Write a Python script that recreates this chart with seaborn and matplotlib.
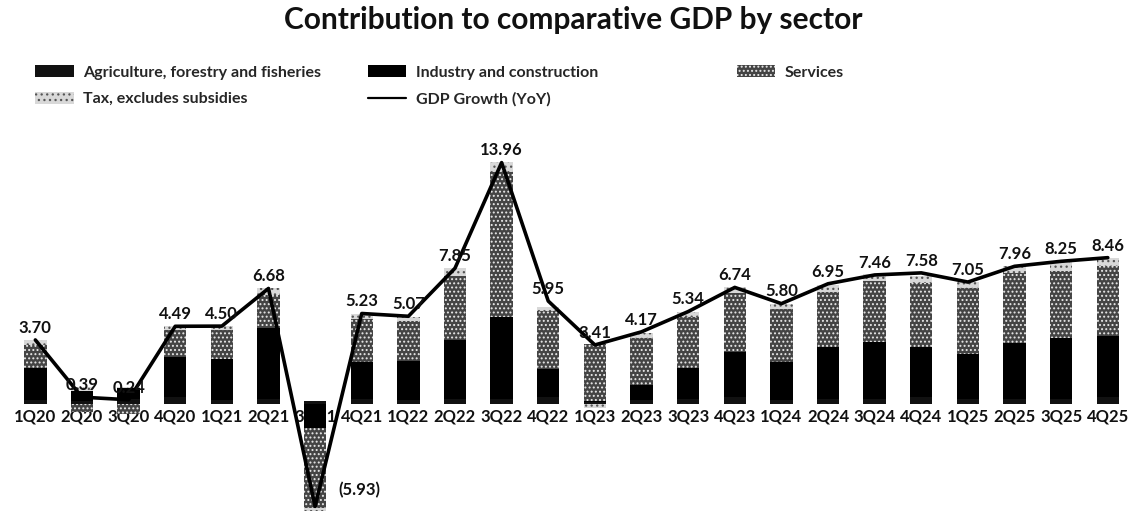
import numpy as np
import pandas as pd
import matplotlib
matplotlib.use("Agg")
import matplotlib.pyplot as plt
import seaborn as sns
from matplotlib.patches import Patch
from matplotlib.lines import Line2D

categories = ['1Q20', '2Q20', '3Q20', '4Q20', '1Q21', '2Q21', '3Q21', '4Q21',
              '1Q22', '2Q22', '3Q22', '4Q22', '1Q23', '2Q23', '3Q23', '4Q23',
              '1Q24', '2Q24', '3Q24', '4Q24', '1Q25', '2Q25', '3Q25', '4Q25']
agriculture = [0.20, 0.15, 0.30, 0.40, 0.25, 0.30, 0.15, 0.30, 0.20, 0.30, 0.30, 0.40,
               0.10, 0.20, 0.30, 0.40, 0.20, 0.30, 0.30, 0.40, 0.30, 0.30, 0.30, 0.40]
industry = [1.90, 0.60, 0.60, 2.30, 2.35, 4.10, -1.40, 2.10, 2.30, 3.40, 4.70, 1.60,
            0.05, 0.90, 1.80, 2.60, 2.20, 3.00, 3.30, 2.90, 2.60, 3.20, 3.50, 3.50]
services = [1.30, -0.45, -0.60, 1.55, 1.65, 1.90, -4.60, 2.50, 2.30, 3.70, 8.40, 3.40,
            3.30, 2.70, 2.90, 3.40, 3.10, 3.20, 3.50, 3.70, 3.80, 4.10, 3.90, 4.10]
tax = [0.30, 0.20, 0.05, 0.25, 0.25, 0.40, -0.20, 0.30, 0.25, 0.45, 0.60, 0.20,
       -0.25, 0.30, 0.30, 0.35, 0.30, 0.40, 0.40, 0.40, 0.35, 0.40, 0.50, 0.45]
gdp = [3.70, 0.39, 0.24, 4.49, 4.50, 6.68, -5.93, 5.23, 5.07, 7.85, 13.96, 5.95,
       3.41, 4.17, 5.34, 6.74, 5.80, 6.95, 7.46, 7.58, 7.05, 7.96, 8.25, 8.46]
gdp_labels = ['3.70', '0.39', '0.24', '4.49', '4.50', '6.68', '(5.93)', '5.23',
              '5.07', '7.85', '13.96', '5.95', '3.41', '4.17', '5.34', '6.74',
              '5.80', '6.95', '7.46', '7.58', '7.05', '7.96', '8.25', '8.46']

series_names = ['Agriculture, forestry and fisheries', 'Industry and construction',
                'Services', 'Tax, excludes subsidies']
series_values = [agriculture, industry, services, tax]
styles = [
    dict(color='#111111', edgecolor='#111111', hatch=None),
    dict(color='#000000', edgecolor='#000000', hatch=None),
    dict(color='#444444', edgecolor='#e8e8e8', hatch='....'),
    dict(color='#d8d8d8', edgecolor='#555555', hatch='...'),
]

sns.set_theme(style='white')
plt.rcParams['font.family'] = ['Lato', 'DejaVu Sans']
plt.rcParams['hatch.linewidth'] = 0.9

fig = plt.figure(figsize=(11.46, 5.22), dpi=100)
ax = fig.add_axes([0.0105, 0.0077, 0.9765, 0.7318])

pos_bottom = np.zeros(len(categories))
neg_bottom = np.zeros(len(categories))
for name, vals, st in zip(series_names, series_values, styles):
    v = np.array(vals, dtype=float)
    bottom = np.where(v >= 0, pos_bottom, neg_bottom)
    df = pd.DataFrame({'quarter': categories, 'value': v})
    sns.barplot(data=df, x='quarter', y='value', order=categories, ax=ax,
                bottom=bottom, width=0.48, errorbar=None, zorder=2,
                saturation=1, color=st['color'], edgecolor=st['edgecolor'],
                hatch=st['hatch'], linewidth=0)
    pos_bottom = pos_bottom + np.where(v > 0, v, 0)
    neg_bottom = neg_bottom + np.where(v < 0, v, 0)

xs = np.arange(len(categories))
sns.lineplot(x=xs, y=gdp, ax=ax, color='black', linewidth=2.6, zorder=4)

for i, (yv, lab) in enumerate(zip(gdp, gdp_labels)):
    if yv < 0:
        ax.annotate(lab, (i, yv), xytext=(32, 6), textcoords='offset points',
                    ha='center', va='bottom', fontsize=12, fontweight='bold',
                    color='#111111', zorder=5)
    else:
        ax.annotate(lab, (i, yv), xytext=(0, 3), textcoords='offset points',
                    ha='center', va='bottom', fontsize=12, fontweight='bold',
                    color='#111111', zorder=5)

ax.set_xlim(-0.5, len(categories) - 0.5)
ax.set_ylim(-6.6, 15.5)
ax.set_xlabel('')
ax.set_ylabel('')
ax.set_yticks([])
ax.spines['bottom'].set_position(('data', 0))
for s in ['top', 'right', 'left', 'bottom']:
    ax.spines[s].set_color('none')
ax.set_axisbelow(True)
ax.tick_params(axis='x', length=0, pad=3, labelsize=12)
for t in ax.get_xticklabels():
    t.set_fontweight('bold')
    t.set_color('#111111')

fig.suptitle('Contribution to comparative GDP by sector', x=0.5, y=0.988,
             fontsize=21.5, fontweight='bold', color='#111111', va='top')

def patch(st):
    return Patch(facecolor=st['color'], edgecolor=st['edgecolor'],
                 hatch=st['hatch'], linewidth=0)

leg_kw = dict(loc='upper left', frameon=False, handlelength=2.4,
              handleheight=0.75, handletextpad=0.6, labelspacing=0.75, borderpad=0,
              prop={'weight': 'bold', 'size': 11.5})
l1 = fig.legend([patch(styles[0]), patch(styles[3])], [series_names[0], series_names[3]],
                bbox_to_anchor=(0.024, 0.890), **leg_kw)
l2 = fig.legend([patch(styles[1]), Line2D([0], [0], color='black', lw=1.6)],
                [series_names[1], 'GDP Growth (YoY)'],
                bbox_to_anchor=(0.314, 0.890), **leg_kw)
l3 = fig.legend([patch(styles[2])], [series_names[2]],
                bbox_to_anchor=(0.636, 0.890), **leg_kw)

fig.savefig('out.png', dpi=100)
